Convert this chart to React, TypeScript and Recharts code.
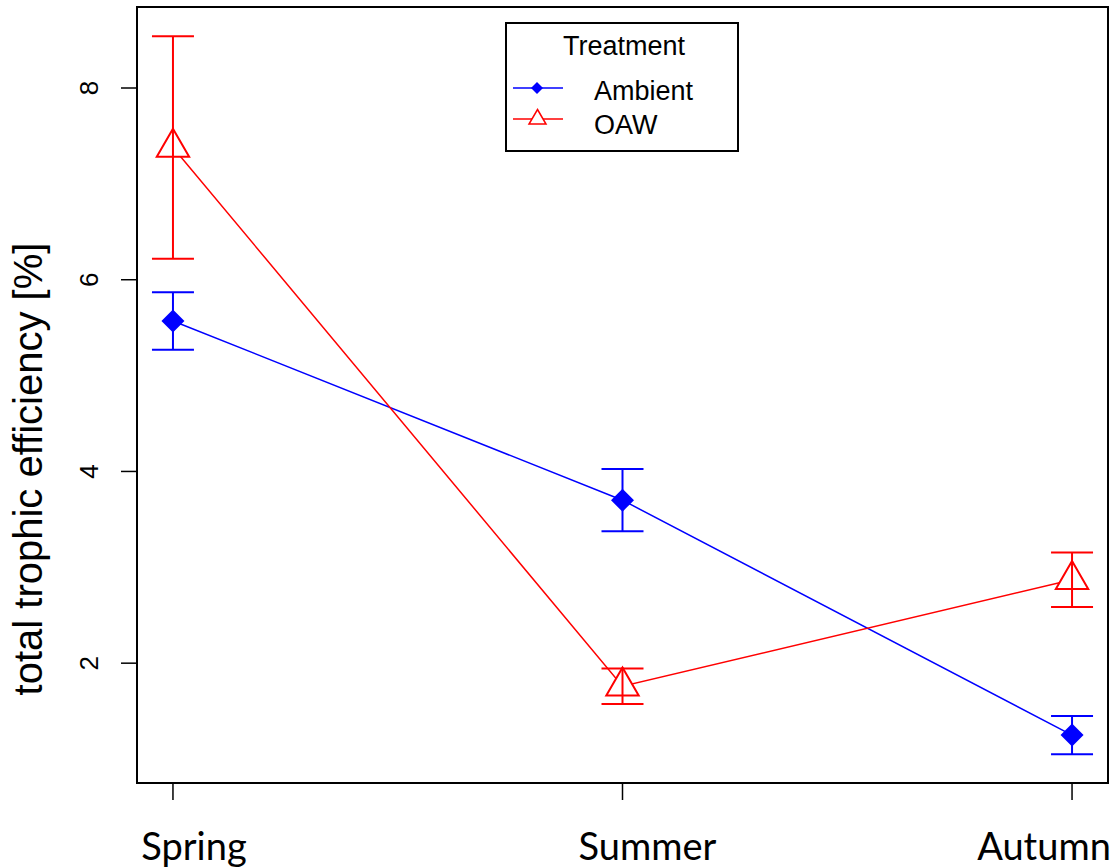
import React from "react";
import {
  ComposedChart,
  Line,
  XAxis,
  YAxis,
  ErrorBar,
  ReferenceArea,
  Legend,
} from "recharts";

// Seasons on the x axis
const seasons = ["Spring", "Summer", "Autumn"];

// Treatment means and standard errors, total trophic efficiency [%]
const ambientMean = [5.57, 3.7, 1.25];
const ambientSe = [0.3, 0.325, 0.2];
const oawMean = [7.38, 1.76, 2.87];
const oawSe = [1.16, 0.185, 0.285];

const yTicks = [2, 4, 6, 8];

const BLUE = "#0000ff";
const RED = "#ff0000";
const SANS = "'Liberation Sans', Arial, sans-serif";

const rows = seasons.map((s, i) => ({
  x: i,
  season: s,
  ambient: ambientMean[i],
  ambientErr: [ambientSe[i], ambientSe[i]],
  oaw: oawMean[i],
  oawErr: [oawSe[i], oawSe[i]],
}));

// label placement of the season names (they sit off the ticks in the original)
const labelNudge: Record<number, number> = { 0: 21, 1: 25, 2: -28 };

function Diamond(props: any) {
  const { cx, cy } = props;
  if (cx == null || cy == null) return null;
  const r = 11.5;
  return (
    <path
      d={`M${cx},${cy - r}L${cx + r},${cy}L${cx},${cy + r}L${cx - r},${cy}Z`}
      fill={BLUE}
      stroke="none"
    />
  );
}

function Triangle(props: any) {
  const { cx, cy } = props;
  if (cx == null || cy == null) return null;
  const r = 18.7;
  const h = r * 0.866;
  return (
    <g>
      <path
        d={`M${cx},${cy - r}L${cx + h},${cy + r / 2}L${cx - h},${cy + r / 2}Z`}
        fill="#fff"
        stroke={RED}
        strokeWidth={2}
      />
      <line x1={cx} y1={cy - r} x2={cx} y2={cy + r / 2} stroke={RED} strokeWidth={2} />
    </g>
  );
}

function SeasonTick(props: any) {
  const { x, payload } = props;
  const i = payload.value as number;
  return (
    <text
      x={x + (labelNudge[i] ?? 0)}
      y={860}
      textAnchor="middle"
      fontFamily="Lato, sans-serif"
      fontSize={38}
      fill="#000"
    >
      {seasons[i]}
    </text>
  );
}

function ValueTick(props: any) {
  const { y, payload } = props;
  return (
    <text
      x={0}
      y={0}
      transform={`translate(98, ${y}) rotate(-90)`}
      textAnchor="middle"
      fontFamily={SANS}
      fontSize={26}
      fill="#000"
    >
      {payload.value}
    </text>
  );
}

function TreatmentLegend() {
  return (
    <svg width={234} height={130} style={{ display: "block" }}>
      <rect x={1} y={1} width={232} height={128} fill="#fff" stroke="#000" strokeWidth={2} />
      <text x={119} y={33} textAnchor="middle" fontFamily={SANS} fontSize={27} fill="#000">
        Treatment
      </text>
      <line x1={8} y1={66} x2={58} y2={66} stroke={BLUE} strokeWidth={1.5} />
      <path d="M32,60L38,66L32,72L26,66Z" fill={BLUE} />
      <text x={89} y={78} fontFamily={SANS} fontSize={27} fill="#000">
        Ambient
      </text>
      <line x1={8} y1={97} x2={58} y2={97} stroke={RED} strokeWidth={1.5} />
      <path d="M32.5,87.5L41,102L24,102Z" fill="#fff" stroke={RED} strokeWidth={1.5} />
      <text x={89} y={112} fontFamily={SANS} fontSize={27} fill="#000">
        OAW
      </text>
    </svg>
  );
}

export default function App() {
  return (
    <div
      style={{
        position: "absolute",
        left: 0,
        top: 0,
        width: 1114,
        height: 868,
        background: "#fff",
      }}
    >
      <ComposedChart
        width={1114}
        height={868}
        data={rows}
        margin={{ top: 7, right: 6, bottom: 0, left: 0 }}
      >
        <XAxis
          dataKey="x"
          type="number"
          domain={[-0.08, 2.08]}
          ticks={[0, 1, 2]}
          height={85}
          axisLine={false}
          tickSize={17}
          tickLine={{ stroke: "#000", strokeWidth: 1.5 }}
          tick={<SeasonTick />}
          interval={0}
          allowDataOverflow
        />
        <YAxis
          type="number"
          domain={[0.75, 8.845]}
          ticks={yTicks}
          width={137}
          axisLine={false}
          tickSize={16}
          tickLine={{ stroke: "#000", strokeWidth: 1.5 }}
          tick={<ValueTick />}
          allowDataOverflow
        />
        <ReferenceArea
          x1={-0.08}
          x2={2.08}
          y1={0.75}
          y2={8.845}
          fill="none"
          stroke="#000"
          strokeWidth={2}
          ifOverflow="visible"
        />
        <Line
          dataKey="ambient"
          stroke={BLUE}
          strokeWidth={1.5}
          dot={<Diamond />}
          activeDot={false}
          isAnimationActive={false}
        >
          <ErrorBar
            dataKey="ambientErr"
            direction="y"
            width={21}
            stroke={BLUE}
            strokeWidth={2}
            isAnimationActive={false}
          />
        </Line>
        <Line
          dataKey="oaw"
          stroke={RED}
          strokeWidth={1.5}
          dot={<Triangle />}
          activeDot={false}
          isAnimationActive={false}
        >
          <ErrorBar
            dataKey="oawErr"
            direction="y"
            width={21}
            stroke={RED}
            strokeWidth={2}
            isAnimationActive={false}
          />
        </Line>
        <Legend
          layout="vertical"
          align="center"
          verticalAlign="middle"
          content={<TreatmentLegend />}
          wrapperStyle={{ top: 22, left: 505, bottom: "auto", width: 234, height: 130 }}
        />
        <text
          x={0}
          y={0}
          transform="translate(42, 469) rotate(-90)"
          textAnchor="middle"
          fontFamily={SANS}
          fontSize={40}
          fill="#000"
        >
          total trophic efficiency [%]
        </text>
      </ComposedChart>
    </div>
  );
}
